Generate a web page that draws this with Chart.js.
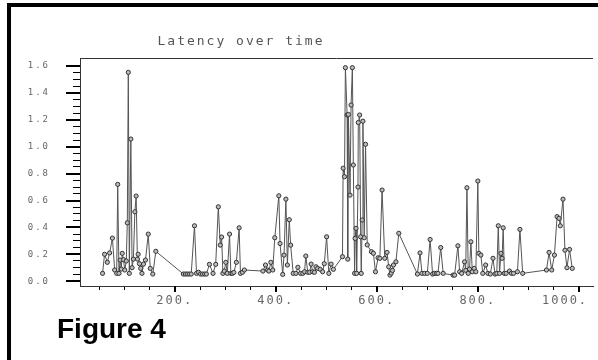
<!DOCTYPE html>
<html>
<head>
<meta charset="utf-8">
<script src="https://cdn.jsdelivr.net/npm/chart.js@4.4.1/dist/chart.umd.min.js"></script>
<style>
  html, body { margin: 0; padding: 0; background: #fff; }
  #wrap { width: 598px; height: 360px; overflow: hidden; }
</style>
</head>
<body>
<div id="wrap"><canvas id="c" width="598" height="360"></canvas></div>
<script>
const chartTitle = 'Latency over time';
const figureLabel = 'Figure 4';

// sample times (x) and latency (y)
const times = [
  57, 61, 66.5, 71, 76.5, 81, 85, 87, 89.5, 92, 94, 96, 98.5, 101, 104, 106, 108, 110, 113, 115.5,
  118, 121, 123.5, 126, 127.5, 130, 132.5, 135, 138, 142, 147.5, 151.5, 156.5, 162.5,
  217, 221, 224.7, 228.6, 232.5, 239, 243, 247, 251, 255, 259, 262.5, 268.6, 275.7, 281, 286.2,
  290, 292.7, 295.3, 298, 301, 304, 308.4, 311, 314, 317, 322, 327.4, 330, 334, 337.8,
  374.5, 379.6, 383.6, 386.3, 390.2, 394, 398, 406, 408.4, 413.7, 416.3, 420, 422.9, 426.7, 429.4,
  434.5, 439.8, 443.7, 449, 453.5, 457, 459.4, 463.3, 467, 470, 473, 476.5, 479.6, 483, 488,
  492.7, 496, 500.6, 505, 509.5, 514,
  532, 533.3, 536, 537.8, 541.2, 542.4, 543.7, 547, 549, 551.6, 553.5, 556, 557, 558.8, 560,
  562.7, 563.3, 566, 568, 569.2, 571, 572.5, 575, 577.7, 581, 589.4, 593.3, 597.3, 602.5, 606,
  610.4, 615.7, 620.2, 623.5, 626, 628.6, 631, 633, 637.8, 643.5,
  680.4, 685.5, 689.4, 694.7, 700, 705.5, 710.4, 714, 718, 721, 726.5, 731.4, 751, 754, 760.5,
  764, 768, 773.7, 776, 778.4, 781, 783.5, 786.3, 789, 792.7, 796, 800, 802, 806, 809.8,
  815.5, 820, 824.7, 830, 834, 837.5, 840.5, 843, 845.7, 848, 850.2, 852.5, 856, 862.7, 866.5,
  870.6, 878.4, 883.3, 888.8,
  935.9, 941, 946.3, 951.6, 956.9, 960.8, 963.3, 968.6, 972.5, 976.4, 981.6, 986.9
];
const latency = [
  0.058, 0.20, 0.14, 0.21, 0.32, 0.083, 0.058, 0.72, 0.058, 0.157, 0.09, 0.207, 0.16, 0.083, 0.15, 0.434, 1.553, 0.058, 1.057, 0.10,
  0.164, 0.516, 0.633, 0.164, 0.20, 0.13, 0.095, 0.058, 0.127, 0.157, 0.35, 0.095, 0.053, 0.222,
  0.053, 0.053, 0.053, 0.053, 0.053, 0.412, 0.058, 0.066, 0.053, 0.053, 0.053, 0.053, 0.125, 0.058, 0.125, 0.553,
  0.268, 0.328, 0.058, 0.075, 0.14, 0.058, 0.35, 0.058, 0.058, 0.065, 0.14, 0.397, 0.058, 0.066, 0.083,
  0.075, 0.12, 0.083, 0.075, 0.14, 0.083, 0.323, 0.635, 0.28, 0.05, 0.194, 0.61, 0.12, 0.457, 0.268,
  0.058, 0.058, 0.103, 0.058, 0.058, 0.07, 0.187, 0.066, 0.066, 0.127, 0.07, 0.066, 0.107, 0.095, 0.088,
  0.07, 0.13, 0.33, 0.058, 0.127, 0.088,
  0.182, 0.84, 0.777, 1.588, 1.236, 0.164, 1.24, 0.64, 1.31, 1.588, 0.864, 0.058, 0.318, 0.393, 0.058,
  0.70, 1.18, 1.236, 0.33, 0.058, 0.455, 1.19, 0.323, 1.018, 0.27, 0.219, 0.207, 0.07, 0.174, 0.17,
  0.678, 0.17, 0.214, 0.107, 0.045, 0.06, 0.08, 0.12, 0.144, 0.356,
  0.053, 0.21, 0.058, 0.058, 0.058, 0.31, 0.053, 0.058, 0.058, 0.058, 0.25, 0.058, 0.045, 0.045, 0.263,
  0.07, 0.058, 0.144, 0.08, 0.695, 0.058, 0.09, 0.293, 0.07, 0.095, 0.07, 0.745, 0.207, 0.194, 0.058,
  0.12, 0.058, 0.053, 0.17, 0.053, 0.058, 0.412, 0.058, 0.207, 0.17, 0.397, 0.058, 0.058, 0.075, 0.058,
  0.058, 0.07, 0.385, 0.058,
  0.083, 0.214, 0.083, 0.194, 0.48, 0.467, 0.412, 0.61, 0.23, 0.1, 0.236, 0.095
];

const xMajorTicks = [200, 400, 600, 800, 1000];
const yMajorTicks = [0, 0.2, 0.4, 0.6, 0.8, 1.0, 1.2, 1.4, 1.6];

const points = times.map((t, i) => ({ x: t, y: latency[i] }));

function onStep(v, step) {
  return Math.abs(v / step - Math.round(v / step)) < 1e-6;
}

const decor = {
  id: 'decor',
  beforeDraw(chart) {
    const ctx = chart.ctx;
    ctx.save();
    ctx.fillStyle = '#fff';
    ctx.fillRect(0, 0, chart.width, chart.height);
    ctx.restore();
    ctx.letterSpacing = '2px';
  },
  afterDraw(chart) {
    const ctx = chart.ctx;
    const a = chart.chartArea;
    const xs = chart.scales.x, ys = chart.scales.y;
    ctx.save();
    // top edge of plot box
    ctx.strokeStyle = '#333';
    ctx.lineWidth = 1;
    ctx.beginPath();
    ctx.moveTo(a.left, a.top + 0.5);
    ctx.lineTo(a.right, a.top + 0.5);
    ctx.stroke();
    // long major ticks
    ctx.strokeStyle = '#000';
    ctx.lineWidth = 2;
    yMajorTicks.forEach(v => {
      const p = Math.round(ys.getPixelForValue(v));
      ctx.beginPath();
      ctx.moveTo(a.left - 14, p);
      ctx.lineTo(a.left, p);
      ctx.stroke();
    });
    xMajorTicks.forEach(v => {
      const p = Math.round(xs.getPixelForValue(v));
      ctx.beginPath();
      ctx.moveTo(p, a.bottom);
      ctx.lineTo(p, a.bottom + 6);
      ctx.stroke();
    });
    // title
    ctx.letterSpacing = '2px';
    ctx.font = '13px "DejaVu Sans Mono"';
    ctx.fillStyle = '#555';
    ctx.textAlign = 'center';
    ctx.textBaseline = 'middle';
    ctx.fillText(chartTitle, 241, 42);
    // figure label
    ctx.letterSpacing = '0px';
    ctx.font = 'bold 28px "Liberation Sans"';
    ctx.fillStyle = '#000';
    ctx.textAlign = 'left';
    ctx.textBaseline = 'alphabetic';
    ctx.fillText(figureLabel, 57, 338);
    // outer frame (top and left only visible)
    ctx.fillRect(7, 3, 591, 4);
    ctx.fillRect(7, 3, 4, 357);
    ctx.restore();
  }
};

new Chart(document.getElementById('c'), {
  type: 'scatter',
  data: {
    datasets: [{
      data: points,
      showLine: true,
      borderColor: '#555',
      borderWidth: 1,
      pointRadius: 2.1,
      pointBorderWidth: 1,
      pointBorderColor: '#333',
      pointBackgroundColor: '#bbb'
    }]
  },
  options: {
    responsive: false,
    animation: false,
    devicePixelRatio: 1,
    layout: { padding: { top: 58, right: 0, bottom: 0, left: 0 } },
    plugins: { legend: { display: false }, tooltip: { enabled: false }, title: { display: false } },
    scales: {
      x: {
        type: 'linear',
        min: 12.35,
        max: 1028,
        afterBuildTicks(scale) {
          const t = [];
          for (let v = 50; v <= 1000; v += 50) t.push({ value: v });
          scale.ticks = t;
        },
        afterFit(scale) {
          scale.height = 74;
          scale.paddingLeft = 0;
          scale.paddingRight = 0;
        },
        ticks: {
          autoSkip: false,
          maxRotation: 0,
          padding: 4,
          color: '#666',
          font: { family: 'DejaVu Sans Mono', size: 12 },
          callback: v => v === 1000 ? '1000.   ' : (onStep(v, 200) ? v + '.' : '')
        },
        grid: { drawOnChartArea: false, tickLength: 4, tickColor: '#000', tickWidth: 1 },
        border: { display: true, color: '#333', width: 1 }
      },
      y: {
        type: 'linear',
        min: -0.036,
        max: 1.66,
        afterBuildTicks(scale) {
          const t = [];
          for (let i = 0; i <= 32; i++) t.push({ value: i * 0.05 });
          scale.ticks = t;
        },
        afterFit(scale) {
          scale.width = 80;
          scale.paddingTop = 0;
          scale.paddingBottom = 0;
        },
        ticks: {
          autoSkip: false,
          padding: 23,
          color: '#666',
          font: { family: 'DejaVu Sans Mono', size: 9 },
          callback: v => onStep(v, 0.2) ? v.toFixed(1) : ''
        },
        grid: { drawOnChartArea: false, tickLength: 7, tickColor: '#000', tickWidth: 1 },
        border: { display: true, color: '#333', width: 1 }
      }
    }
  },
  plugins: [decor]
});
</script>
</body>
</html>
